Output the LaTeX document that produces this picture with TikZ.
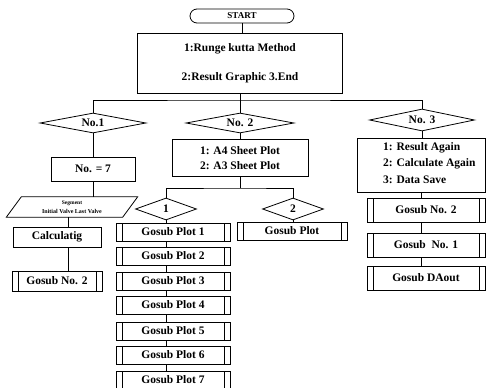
\documentclass[tikz,border=0pt]{standalone}
\usepackage{fontspec}
\setmainfont{Liberation Serif}
\usetikzlibrary{shapes.geometric,calc}
\begin{document}
\begin{tikzpicture}[x=1pt,y=-1pt,
  every node/.style={font=\bfseries\fontsize{11.5}{13}\selectfont, inner sep=0pt},
  proc/.style={draw, rectangle, line width=0.8pt},
  dec/.style={draw, diamond, aspect=5, line width=0.8pt},
  sub/.style={proc, path picture={\draw[line width=0.8pt]
      ([xshift=6pt]path picture bounding box.north west) -- ([xshift=6pt]path picture bounding box.south west)
      ([xshift=-6pt]path picture bounding box.north east) -- ([xshift=-6pt]path picture bounding box.south east);}},
  conn/.style={line width=0.8pt}
]
\useasboundingbox (0,0) rectangle (488,388);

% top
\node[proc, rounded corners=7pt, minimum width=104pt, minimum height=14pt,
      font=\bfseries\fontsize{9}{10}\selectfont] (start) at (242,16) {START};
\node[proc, minimum width=205pt, minimum height=60pt, align=center] (main) at (240,63)
  {1:Runge kutta Method\\[16pt]2:Result Graphic 3.End};
\coordinate (b1) at (240,100);

% decisions
\node[dec, minimum width=106pt, minimum height=20pt] (d1) at (93,123) {No.1};
\node[dec, minimum width=108pt, minimum height=20pt] (d2) at (240,123) {No. 2};
\node[dec, minimum width=105pt, minimum height=22pt] (d3) at (422,120) {No. 3};

% left column
\node[proc, minimum width=84pt, minimum height=24pt] (n7) at (93,169) {No. = 7};
\node[minimum width=116pt, minimum height=20pt, align=center,
      font=\bfseries\fontsize{6}{9}\selectfont] (seg) at (72,207)
  {{\fontsize{5.5}{9}\selectfont Segment}\\Initial Valve Last Valve};
\draw[conn] ($(seg.north west)+(7.5,0)$) -- ($(seg.north east)+(7.5,0)$)
  -- ($(seg.south east)+(-7.5,0)$) -- ($(seg.south west)+(-7.5,0)$) -- cycle;
\node[proc, minimum width=88pt, minimum height=20pt] (calc) at (57,237) {Calculatig};
\node[sub, minimum width=90pt, minimum height=20pt] (g2L) at (57,281) {Gosub No. 2};

% middle column
\node[proc, minimum width=136pt, minimum height=37pt, align=center] (b2) at (240,158)
  {1: A4 Sheet Plot\\[2pt]2: A3 Sheet Plot};
\coordinate (b2bus) at (240,188);
\node[dec, aspect=3, minimum width=61pt, minimum height=22pt] (dd1) at (166,209) {1};
\node[dec, aspect=3, minimum width=61pt, minimum height=22pt] (dd2) at (293,209) {2};
\foreach \i/\y in {1/232,2/256,3/281,4/305,5/331,6/355,7/380}
  \node[sub, minimum width=114pt, minimum height=18pt] (p\i) at (173,\y) {Gosub Plot \i};
\node[sub, minimum width=110pt, minimum height=18pt] (gp) at (292,231) {Gosub Plot};

% right column
\node[proc, minimum width=128pt, minimum height=54pt] (b3) at (421,165) {};
\node[anchor=west, align=left] (b3t) at (383,163)
  {1: Result Again\\[3.5pt]2: Calculate Again\\[3.5pt]3: Data Save};
\node[sub, minimum width=118pt, minimum height=24pt] (r1) at (426,210) {Gosub No. 2};
\node[sub, minimum width=118pt, minimum height=24pt] (r2) at (426,245) {Gosub~ No. 1};
\node[sub, minimum width=118pt, minimum height=24pt] (r3) at (426,278) {Gosub DAout};

% connectors
\draw[conn] (start.south) -- (start.south |- main.north);
\draw[conn] (main.south) -- (b1);
\draw[conn] (d1.north) |- (b1) -| (d3.north);
\draw[conn] (b1) -- (d2.north);
\draw[conn] (d1.south) -- (n7.north);
\draw[conn] (n7.south) -- (n7.south |- seg.north);
\draw[conn] ([xshift=-4pt]seg.south) -- ([xshift=11pt]calc.north);
\draw[conn] ([xshift=11pt]calc.south) -- ([xshift=11pt]g2L.north);
\draw[conn] (d2.south) -- (b2.north);
\draw[conn] (b2.south) -- (b2bus);
\draw[conn] (dd1.north) |- (b2bus) -| (dd2.north);
\draw[conn] (dd1.south) -- (dd1.south |- p1.north);
\foreach \a/\b in {1/2,2/3,3/4,4/5,5/6,6/7}
  \draw[conn] (p\a.south -| dd1.south) -- (p\b.north -| dd1.south);
\draw[conn] (dd2.south) -- (dd2.south |- gp.north);
\draw[conn] (d3.south) -- (d3.south |- b3.north);
\draw[conn] (b3.south) -- (b3.south |- r1.north);
\draw[conn] (r1.south -| b3.south) -- (r2.north -| b3.south);
\draw[conn] (r2.south -| b3.south) -- (r3.north -| b3.south);
\end{tikzpicture}
\end{document}
